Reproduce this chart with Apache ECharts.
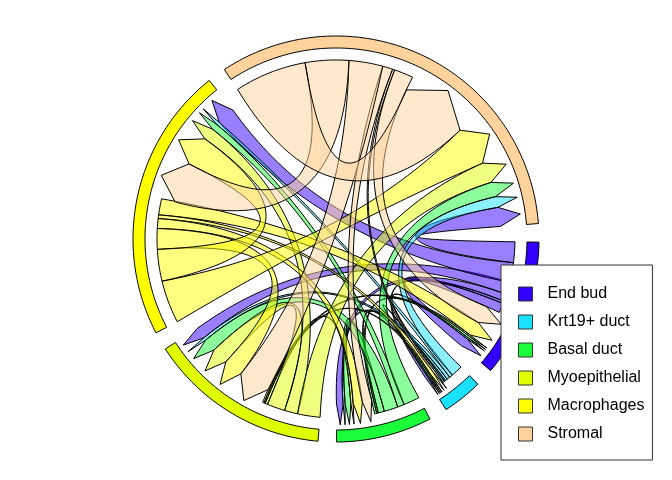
<!DOCTYPE html>
<html>
<head>
<meta charset="utf-8">
<style>
  html, body { margin: 0; padding: 0; background: #fff; }
  #chart { width: 672px; height: 480px; }
</style>
</head>
<body>
<div id="chart"></div>
<script src="https://cdn.jsdelivr.net/npm/echarts@6/dist/echarts.min.js"></script>
<script>
const sectorNames = ['End bud', 'Krt19+ duct', 'Basal duct', 'Myoepithelial', 'Macrophages', 'Stromal'];
const sectorColors = ['#3300ff', '#1ae1ff', '#1aff3a', '#dfff00', '#ffff00', '#ffd39b'];

// flow from each cell type to [End bud, Krt19+, Basal, Myoepithelial, Macrophages, Stromal]
const endBudFlows = [3.1, 0.8, 2.3, 4, 6.4, 6.7];
const krt19Flows = [0.5, 0.4, 0.7, 1, 1.1, 3.8];
const basalFlows = [0.7, 0.5, 2, 4.5, 2.2, 5.2];
const myoFlows = [0.5, 0.4, 0.8, 5.8, 4.3, 7.3];
const macroFlows = [5.2, 1.2, 3.2, 6.7, 10.3, 13.9];
const stromalFlows = [6.2, 0.7, 3.3, 11, 14.1, 23.4];
const flows = [endBudFlows, krt19Flows, basalFlows, myoFlows, macroFlows, stromalFlows];

const START_ANGLE = 0.9;
const R_MAX = 203;
const RING_OUTER = 203, RING_INNER = 191;
const R_BASE = 179;     // flat end of a link
const R_SHOULDER = 165; // arrow shoulders
const R_TIP = 186;      // arrow tip
const R_CONTROL = -10;  // bezier control, slightly past the centre

// links are stacked clockwise in reversed matrix order, outgoing first, then incoming
const stackOrder = [5, 4, 3, 2, 1, 0];
let total = 0;
flows.forEach(row => row.forEach(v => { total += 2 * v; }));
const gap = (360 - total) / 6;
const sectorStart = [], sectorEnd = [], outStart = [], inStart = [];
let pos = START_ANGLE;
for (let i = 0; i < 6; i++) {
    sectorStart[i] = pos;
    outStart[i] = [];
    inStart[i] = [];
    stackOrder.forEach(j => { outStart[i][j] = pos; pos += flows[i][j]; });
    stackOrder.forEach(j => { inStart[i][j] = pos; pos += flows[j][i]; });
    sectorEnd[i] = pos;
    pos += gap;
}

function arcPoints(api, r, a0, a1) {
    const pts = [];
    const n = Math.max(2, Math.ceil(Math.abs(a1 - a0)));
    for (let k = 0; k <= n; k++) {
        pts.push(api.coord([r, a0 + (a1 - a0) * k / n]));
    }
    return pts;
}

function edgePoints(api, r0, a0, r1, a1) {
    const p0 = api.coord([r0, a0]);
    const p1 = api.coord([r1, a1]);
    let d = ((a1 - a0) % 360 + 360) % 360;
    let mid = a0 + d / 2;
    if (d > 180) mid += 180;
    const ctrl = api.coord([Math.abs(R_CONTROL), (mid + 180) % 360]);
    const pts = [];
    for (let k = 1; k < 48; k++) {
        const t = k / 48, u = 1 - t;
        pts.push([
            u * u * p0[0] + 2 * u * t * ctrl[0] + t * t * p1[0],
            u * u * p0[1] + 2 * u * t * ctrl[1] + t * t * p1[1]
        ]);
    }
    return pts;
}

function renderFor(from) {
    return function (params, api) {
        const to = api.value(0);
        const value = api.value(1);
        // ring item
        if (to < 0) {
            const outer = arcPoints(api, RING_OUTER, sectorStart[from], sectorEnd[from]);
            const inner = arcPoints(api, RING_INNER, sectorEnd[from], sectorStart[from]);
            return {
                type: 'polygon',
                shape: { points: outer.concat(inner) },
                style: { fill: sectorColors[from], stroke: '#000', lineWidth: 1 }
            };
        }
        const a0 = outStart[from][to], a1 = a0 + value;
        const b0 = inStart[to][from], b1 = b0 + value;
        let pts = arcPoints(api, R_BASE, a0, a1);
        pts = pts.concat(edgePoints(api, R_BASE, a1, R_SHOULDER, b0));
        pts.push(api.coord([R_SHOULDER, b0]));
        pts.push(api.coord([R_TIP, (b0 + b1) / 2]));
        pts.push(api.coord([R_SHOULDER, b1]));
        pts = pts.concat(edgePoints(api, R_SHOULDER, b1, R_BASE, a0));
        return {
            type: 'polygon',
            shape: { points: pts },
            style: {
                fill: echarts.color.modifyAlpha(sectorColors[from], 0.5),
                stroke: '#000',
                lineWidth: 1
            }
        };
    };
}

const series = sectorNames.map((name, i) => ({
    name: name,
    type: 'custom',
    coordinateSystem: 'polar',
    silent: true,
    animation: false,
    itemStyle: { color: sectorColors[i] },
    renderItem: renderFor(i),
    data: [[-1, 0]].concat(flows[i].map((v, j) => [j, v]))
}));

const chart = echarts.init(document.getElementById('chart'), null, { renderer: 'canvas' });
chart.setOption({
    animation: false,
    backgroundColor: '#fff',
    polar: { center: [336, 239], radius: R_MAX },
    angleAxis: {
        type: 'value', min: 0, max: 360, startAngle: 0, clockwise: true,
        show: false
    },
    radiusAxis: { type: 'value', min: 0, max: R_MAX, show: false },
    legend: {
        data: sectorNames,
        orient: 'vertical',
        left: 501,
        top: 265,
        width: 151,
        padding: [21, 8, 18, 17],
        itemWidth: 14,
        itemHeight: 14,
        itemGap: 12,
        icon: 'rect',
        selectedMode: false,
        backgroundColor: '#fff',
        borderColor: '#333',
        borderWidth: 1,
        itemStyle: { borderColor: '#333', borderWidth: 1 },
        textStyle: {
            fontFamily: 'Liberation Sans',
            fontSize: 16,
            color: '#000',
            padding: [0, 0, 0, 10]
        }
    },
    series: series
});
</script>
</body>
</html>
